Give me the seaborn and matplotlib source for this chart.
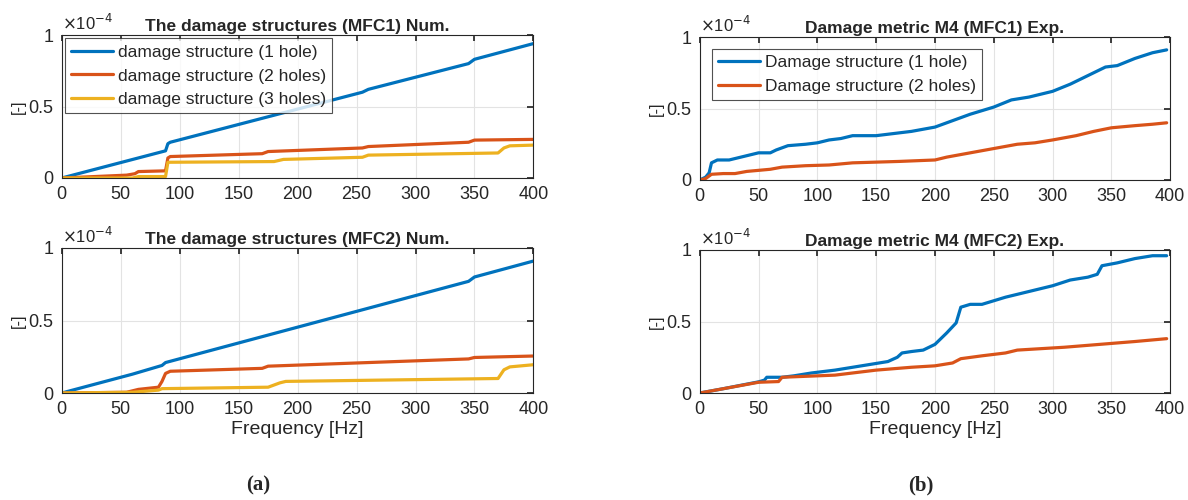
import numpy as np
import pandas as pd
import matplotlib
matplotlib.use("Agg")
import matplotlib.pyplot as plt
import seaborn as sns

# ---- data (values in units of 1e-4) ----
# (a) top: The damage structures (MFC1) Num.
a1_h1_f = [0, 88, 90, 92, 255, 260, 345, 350, 400]
a1_h1_v = [0, 0.19, 0.24, 0.25, 0.60, 0.62, 0.80, 0.83, 0.94]
a1_h2_f = [0, 55, 62, 65, 88, 90, 92, 170, 175, 255, 260, 345, 350, 400]
a1_h2_v = [0, 0.02, 0.03, 0.045, 0.05, 0.14, 0.15, 0.17, 0.185, 0.21, 0.22, 0.25, 0.265, 0.27]
a1_h3_f = [0, 60, 65, 88, 90, 180, 188, 255, 260, 370, 375, 380, 400]
a1_h3_v = [0, 0.0, 0.01, 0.01, 0.11, 0.115, 0.13, 0.145, 0.16, 0.175, 0.21, 0.225, 0.23]

# (a) bottom: The damage structures (MFC2) Num.
a2_h1_f = [0, 60, 85, 88, 345, 350, 400]
a2_h1_v = [0, 0.13, 0.19, 0.21, 0.77, 0.80, 0.91]
a2_h2_f = [0, 55, 65, 82, 85, 88, 92, 170, 175, 345, 350, 400]
a2_h2_v = [0, 0.005, 0.025, 0.04, 0.08, 0.135, 0.15, 0.17, 0.185, 0.235, 0.245, 0.255]
a2_h3_f = [0, 60, 75, 82, 85, 175, 185, 190, 370, 375, 380, 400]
a2_h3_v = [0, 0.005, 0.015, 0.02, 0.03, 0.04, 0.07, 0.08, 0.10, 0.16, 0.18, 0.195]

# (b) top: Damage metric M4 (MFC1) Exp.
b1_h1_f = [0, 5, 8, 10, 15, 25, 35, 45, 50, 60, 65, 75, 90, 100, 110, 120, 130, 150, 160,
           180, 200, 210, 230, 250, 265, 280, 300, 315, 330, 345, 355, 370, 385, 397]
b1_h1_v = [0, 0.02, 0.05, 0.12, 0.14, 0.14, 0.16, 0.18, 0.19, 0.19, 0.21, 0.24, 0.25, 0.26,
           0.28, 0.29, 0.31, 0.31, 0.32, 0.34, 0.37, 0.40, 0.46, 0.51, 0.56, 0.58, 0.62, 0.67,
           0.73, 0.79, 0.80, 0.85, 0.89, 0.91]
b1_h2_f = [0, 5, 10, 20, 30, 40, 60, 70, 90, 110, 130, 170, 200, 210, 230, 250, 270, 285,
           300, 320, 335, 350, 370, 385, 397]
b1_h2_v = [0, 0.01, 0.04, 0.045, 0.045, 0.06, 0.075, 0.09, 0.10, 0.105, 0.12, 0.13, 0.14,
           0.16, 0.19, 0.22, 0.25, 0.26, 0.28, 0.31, 0.34, 0.365, 0.38, 0.39, 0.40]

# (b) bottom: Damage metric M4 (MFC2) Exp.
b2_h1_f = [0, 20, 50, 55, 57, 70, 80, 95, 105, 115, 130, 145, 160, 168, 172, 180, 190, 200,
           210, 218, 222, 230, 240, 260, 280, 300, 315, 330, 338, 342, 355, 370, 385, 397]
b2_h1_v = [0, 0.03, 0.078, 0.09, 0.11, 0.11, 0.12, 0.14, 0.15, 0.16, 0.18, 0.20, 0.22, 0.25,
           0.28, 0.29, 0.30, 0.34, 0.42, 0.49, 0.60, 0.62, 0.62, 0.67, 0.71, 0.75, 0.79, 0.81,
           0.83, 0.89, 0.91, 0.94, 0.96, 0.96]
b2_h2_f = [0, 20, 50, 67, 70, 100, 115, 150, 180, 200, 215, 222, 240, 260, 270, 290, 310,
           340, 370, 397]
b2_h2_v = [0, 0.03, 0.075, 0.08, 0.11, 0.12, 0.125, 0.16, 0.18, 0.19, 0.21, 0.24, 0.26, 0.28,
           0.30, 0.31, 0.32, 0.34, 0.36, 0.38]

num_labels = ["damage structure (1 hole)", "damage structure (2 holes)", "damage structure (3 holes)"]
exp_labels = ["Damage structure (1 hole)", "Damage structure (2 holes)"]
titles = ["The damage structures (MFC1) Num.", "The damage structures (MFC2) Num.",
          "Damage metric M4 (MFC1) Exp.", "Damage metric M4 (MFC2) Exp."]
xticks = [0, 50, 100, 150, 200, 250, 300, 350, 400]
yticks = [0, 0.5, 1]
ytick_labels = ["0", "0.5", "1"]
colors = ["#0072BD", "#D95319", "#EDB120"]

sns.set_theme(style="white")
plt.rcParams["font.family"] = ["Liberation Sans", "DejaVu Sans"]

fig = plt.figure(figsize=(11.88, 5.0), dpi=100)
positions = [
    [0.052, 0.644, 0.397, 0.286],
    [0.052, 0.214, 0.397, 0.290],
    [0.589, 0.640, 0.396, 0.286],
    [0.589, 0.214, 0.396, 0.286],
]

panels = [
    [(a1_h1_f, a1_h1_v), (a1_h2_f, a1_h2_v), (a1_h3_f, a1_h3_v)],
    [(a2_h1_f, a2_h1_v), (a2_h2_f, a2_h2_v), (a2_h3_f, a2_h3_v)],
    [(b1_h1_f, b1_h1_v), (b1_h2_f, b1_h2_v)],
    [(b2_h1_f, b2_h1_v), (b2_h2_f, b2_h2_v)],
]
label_sets = [num_labels, num_labels, exp_labels, exp_labels]

for i, (pos, series) in enumerate(zip(positions, panels)):
    ax = fig.add_axes(pos)
    frames = []
    for j, (f, v) in enumerate(series):
        frames.append(pd.DataFrame({"f": f, "v": v, "s": label_sets[i][j]}))
    df = pd.concat(frames, ignore_index=True)
    sns.lineplot(data=df, x="f", y="v", hue="s", palette=colors[:len(series)],
                 linewidth=2.3, ax=ax, legend=(i in (0, 2)), estimator=None, sort=False)
    ax.set_xlim(0, 400)
    ax.set_ylim(0, 1)
    ax.set_xticks(xticks)
    ax.set_yticks(yticks)
    ax.set_yticklabels(ytick_labels)
    ax.grid(True, color="#e3e3e3", linewidth=0.8)
    ax.tick_params(direction="in", length=4, top=True, right=True, labelsize=13,
                   colors="#262626", pad=6)
    for sp in ax.spines.values():
        sp.set_color("#262626")
        sp.set_linewidth(0.8)
    ax.set_title(titles[i], fontsize=12.5, fontweight="bold", pad=3)
    ax.set_ylabel("[-]", fontsize=12, labelpad=2)
    if i in (1, 3):
        ax.set_xlabel("Frequency [Hz]", fontsize=14, labelpad=2)
    else:
        ax.set_xlabel("")
    ax.text(0.0, 1.015, r"$\times$10$^{-4}$", transform=ax.transAxes, fontsize=12,
            color="#262626", va="bottom", ha="left")
    if i in (0, 2):
        leg = ax.legend(loc="upper left", fontsize=12.5, frameon=True, fancybox=False,
                        handlelength=2.4, borderpad=0.35, labelspacing=0.5,
                        handletextpad=0.3, borderaxespad=(0.2 if i == 0 else 0.7))
        leg.get_frame().set_edgecolor("#262626")
        leg.get_frame().set_linewidth(0.8)
        leg.set_title(None)

fig.text(0.217, 0.03, "(a)", fontsize=15, family=["Liberation Serif"], fontweight="bold",
         ha="center", va="center")
fig.text(0.775, 0.03, "(b)", fontsize=15, family=["Liberation Serif"], fontweight="bold",
         ha="center", va="center")

fig.savefig("out.png", dpi=100)
